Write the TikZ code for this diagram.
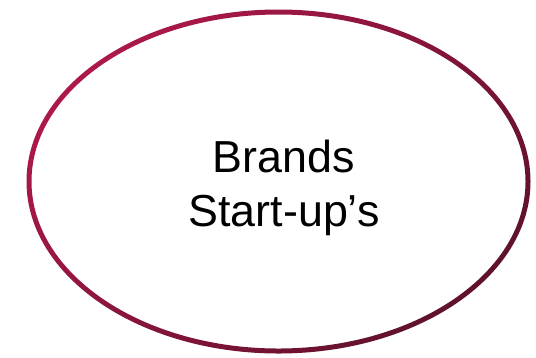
\documentclass[tikz,border=0pt]{standalone}
\usepackage{fontspec}
\setmainfont{Liberation Sans}
\usetikzlibrary{positioning}

\definecolor{ringlight}{RGB}{172,24,74}
\definecolor{ringdark}{RGB}{96,18,44}

\tikzset{
  ring/.style={even odd rule, top color=ringlight, bottom color=ringdark, shading angle=45},
  brandtext/.style={align=center, inner sep=0pt, font=\fontsize{45}{54.5}\selectfont}
}

\begin{document}
\begin{tikzpicture}[x=1bp, y=-1bp]
    % Canvas: same size as the reference
    \useasboundingbox (0,0) rectangle (536,357);

    % Ellipse outline, drawn as a shaded ring
    \coordinate (centre) at (278.5,181.5);
    \path[ring] (centre) ellipse [x radius=252, y radius=172]
                (centre) ellipse [x radius=247, y radius=167];

    % Text in the middle
    \node[brandtext] (label) at (284,188) {Brands\\Start-up’s};

\end{tikzpicture}
\end{document}
